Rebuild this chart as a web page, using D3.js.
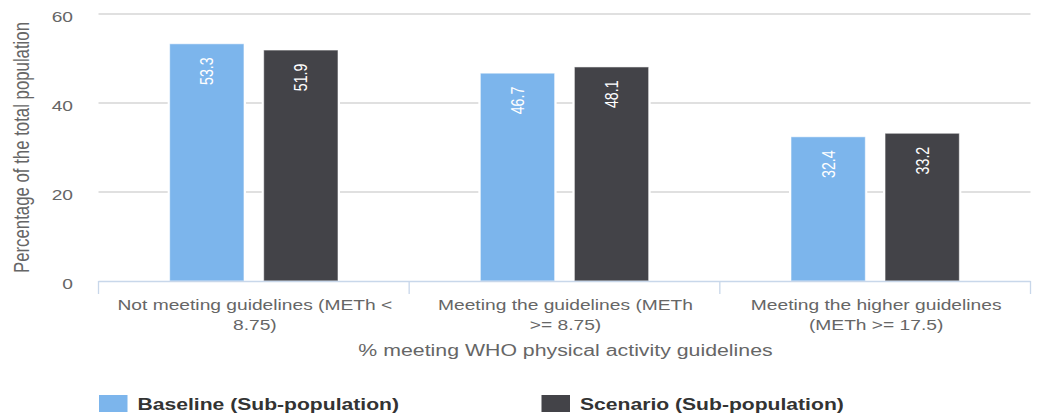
<!DOCTYPE html>
<html>
<head>
<meta charset="utf-8">
<script src="https://cdn.jsdelivr.net/npm/d3@7"></script>
<style>
  html, body { margin: 0; padding: 0; background: #fff; }
  svg { display: block; font-family: "Liberation Sans", Arial, sans-serif; }
</style>
</head>
<body>
<svg id="chart" width="1040" height="414"></svg>
<script>
// ---- data ----
const categories = [
  "Not meeting guidelines (METh < 8.75)",
  "Meeting the guidelines (METh >= 8.75)",
  "Meeting the higher guidelines (METh >= 17.5)"
];
const seriesNames = ["Baseline (Sub-population)", "Scenario (Sub-population)"];
const baselineValues = [53.3, 46.7, 32.4];
const scenarioValues = [51.9, 48.1, 33.2];
const yTicks = [0, 20, 40, 60];
const yAxisTitle = "Percentage of the total population";
const xAxisTitle = "% meeting WHO physical activity guidelines";
const colors = ["#7cb5ec", "#434348"];

(function draw() {
// ---- layout ----
const SX = 1.28; // horizontal glyph stretch seen in the reference
const svg = d3.select("#chart");
const pLeft = 98.5, pRight = 1030.5, pTop = 14, pBottom = 281;

const x0 = d3.scaleBand().domain(categories).range([pLeft, pRight]).paddingInner(0).paddingOuter(0);
const x1 = d3.scaleBand().domain(seriesNames).range([0, x0.bandwidth()]).paddingInner(0.21).paddingOuter(0.757);
const y = d3.scaleLinear().domain([0, 60]).range([pBottom, pTop]);

const seriesValues = [baselineValues, scenarioValues];

// gridlines
svg.append("g").selectAll("line").data(yTicks.filter(t => t > 0)).join("line")
  .attr("x1", pLeft).attr("x2", pRight)
  .attr("y1", d => y(d)).attr("y2", d => y(d))
  .attr("stroke", "#d6d6d6").attr("stroke-width", 1.6);

// y tick labels
svg.append("g").selectAll("text").data(yTicks).join("text")
  .attr("transform", d => `translate(73,${y(d) + 8}) scale(${SX},1)`)
  .attr("text-anchor", "end")
  .attr("font-size", 15)
  .attr("fill", "#666")
  .text(d => d);

// y axis title
svg.append("text")
  .attr("transform", `translate(28.5,${(pTop + pBottom) / 2}) scale(${SX},1) rotate(-90)`)
  .attr("text-anchor", "middle")
  .attr("font-size", 16.8)
  .attr("fill", "#666")
  .text(yAxisTitle);

// bars
const groups = svg.append("g").selectAll("g").data(categories).join("g")
  .attr("transform", d => `translate(${x0(d)},0)`);

groups.each(function(cat, ci) {
  const g = d3.select(this);
  seriesNames.forEach((s, si) => {
    const v = seriesValues[si][ci];
    const bx = x1(s), bw = x1.bandwidth();
    g.append("rect")
      .attr("x", bx - 2).attr("y", y(v) - 2)
      .attr("width", bw + 4).attr("height", pBottom - y(v) + 2)
      .attr("fill", "#fff");
    g.append("rect")
      .attr("x", bx).attr("y", y(v))
      .attr("width", bw).attr("height", pBottom - y(v))
      .attr("fill", colors[si])
      .attr("stroke", "rgba(255,255,255,0.55)").attr("stroke-width", 1);
    g.append("text")
      .attr("transform", `translate(${bx + bw / 2},${y(v) + 13.5}) scale(${SX},1) rotate(-90)`)
      .attr("text-anchor", "end")
      .attr("dy", "0.36em")
      .attr("font-size", 14.2)
      .attr("fill", "#fff")
      .text(v.toFixed(1));
  });
});

// x axis line & ticks
const xAxis = svg.append("g");
xAxis.append("line")
  .attr("x1", pLeft).attr("x2", pRight).attr("y1", pBottom + 0.5).attr("y2", pBottom + 0.5)
  .attr("stroke", "#c8d7ea").attr("stroke-width", 1.3);
const boundaries = categories.map(c => x0(c)).concat([x0(categories[categories.length - 1]) + x0.bandwidth()]);
xAxis.selectAll("line.tick").data(boundaries).join("line")
  .attr("class", "tick")
  .attr("x1", d => d).attr("x2", d => d)
  .attr("y1", pBottom).attr("y2", pBottom + 13)
  .attr("stroke", "#c8d7ea").attr("stroke-width", 1.3);

// category labels with wrapping
const measure = svg.append("text").attr("font-size", 15).attr("visibility", "hidden");
function wrap(str, maxW) {
  const words = str.split(" ");
  const lines = [];
  let cur = "";
  words.forEach(w => {
    const test = cur ? cur + " " + w : w;
    measure.text(test);
    if (measure.node().getComputedTextLength() > maxW && cur) {
      lines.push(cur);
      cur = w;
    } else {
      cur = test;
    }
  });
  if (cur) lines.push(cur);
  return lines;
}
categories.forEach(c => {
  const lines = wrap(c, 218);
  const cx = x0(c) + x0.bandwidth() / 2 + 1;
  lines.forEach((ln, i) => {
    svg.append("text")
      .attr("transform", `translate(${cx},${309.5 + i * 20}) scale(${SX},1)`)
      .attr("text-anchor", "middle")
      .attr("font-size", 15)
      .attr("fill", "#666")
      .text(ln);
  });
});
measure.remove();

// x axis title
svg.append("text")
  .attr("transform", `translate(${(pLeft + pRight) / 2 + 1},355.5) scale(${SX},1)`)
  .attr("text-anchor", "middle")
  .attr("font-size", 16.65)
  .attr("fill", "#666")
  .text(xAxisTitle);

// legend
const legendX = [99, 541.5];
const legend = svg.append("g").selectAll("g").data(seriesNames).join("g")
  .attr("transform", (d, i) => `translate(${legendX[i]},395)`);
legend.append("rect")
  .attr("width", 28.5).attr("height", 17)
  .attr("fill", (d, i) => colors[i]);
legend.append("text")
  .attr("transform", `translate(38.5,15.3) scale(${SX},1)`)
  .attr("font-size", 16.5)
  .attr("font-weight", "bold")
  .attr("fill", "#333")
  .text(d => d);
})();
</script>
</body>
</html>
